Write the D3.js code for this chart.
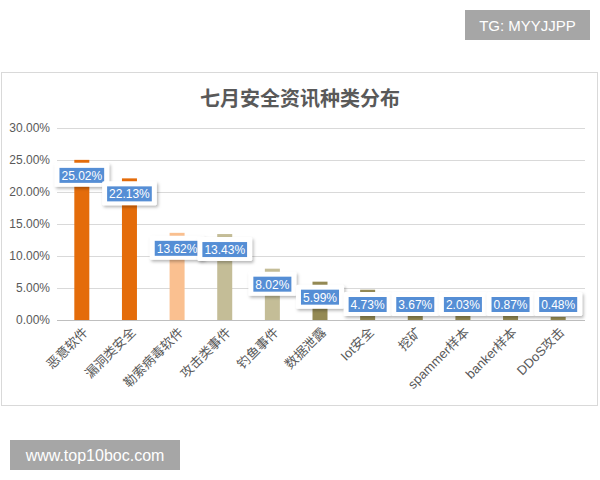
<!DOCTYPE html>
<html><head><meta charset="utf-8">
<script src="https://cdn.jsdelivr.net/npm/d3@7"></script>
<style>body{margin:0;background:#fff}svg{display:block}</style>
</head><body>
<script>
const categories = ["恶意软件","漏洞类安全","勒索病毒软件","攻击类事件","钓鱼事件","数据泄露","Iot安全","挖矿","spammer样本","banker样本","DDoS攻击"];
const values = [25.02, 22.13, 13.62, 13.43, 8.02, 5.99, 4.73, 3.67, 2.03, 0.87, 0.48];
const barColors = ["#E46C0A","#E46C0A","#FAC090","#C4BD97","#C4BD97","#948A54","#948A54","#948A54","#948A54","#948A54","#948A54"];
const yTicks = [0, 5, 10, 15, 20, 25, 30];
const title = "七月安全资讯种类分布";

const W = 600, H = 480;
const svg = d3.select("body").append("svg").attr("width", W).attr("height", H);
const defs = svg.append("defs");
const f = defs.append("filter").attr("id","sh").attr("x","-30%").attr("y","-30%").attr("width","160%").attr("height","180%");
f.append("feDropShadow").attr("dx",1.5).attr("dy",2).attr("stdDeviation",1.5).attr("flood-color","#000").attr("flood-opacity",0.28);

// watermark boxes
svg.append("rect").attr("x",465).attr("y",10).attr("width",125).attr("height",30).attr("fill","#A6A6A6");
svg.append("text").attr("x",527.5).attr("y",31).attr("text-anchor","middle").attr("fill","#fff")
  .attr("font-family","Liberation Sans, Arial, sans-serif").attr("font-size",15).text("TG: MYYJJPP");
svg.append("rect").attr("x",10).attr("y",440).attr("width",170).attr("height",30).attr("fill","#A6A6A6");
svg.append("text").attr("x",95).attr("y",461).attr("text-anchor","middle").attr("fill","#fff")
  .attr("font-family","Liberation Sans, Arial, sans-serif").attr("font-size",16).text("www.top10boc.com");

// chart frame
svg.append("rect").attr("x",1.5).attr("y",72.5).attr("width",596).attr("height",333)
  .attr("fill","#fff").attr("stroke","#D9D9D9");

svg.append("text").attr("x",300).attr("y",106).attr("text-anchor","middle")
  .attr("font-family","Noto Sans CJK SC, sans-serif").attr("font-weight","bold").attr("font-size",20)
  .attr("fill","#595959").text(title);

const x = d3.scaleBand().domain(categories).range([58, 582]).padding(0);
const y = d3.scaleLinear().domain([0, 30]).range([320, 128]);

// grid
const gy = svg.append("g").attr("transform","translate(57,0)")
  .call(d3.axisLeft(y).tickValues(yTicks).tickSize(-528).tickFormat(d => d.toFixed(2) + "%"));
gy.select(".domain").remove();
gy.selectAll(".tick line").attr("stroke","#D9D9D9");
gy.selectAll(".tick text").attr("x",-7).attr("fill","#595959")
  .attr("font-family","Liberation Sans, Arial, sans-serif").attr("font-size",12);
gy.selectAll(".tick").filter(d => d === 0).select("line").attr("stroke","#BFBFBF");

const bw = 15;
const data = categories.map((c, i) => ({c, v: values[i], col: barColors[i]}));

svg.append("g").selectAll("rect").data(data).join("rect")
  .attr("x", d => x(d.c) + x.bandwidth()/2 - bw/2)
  .attr("y", d => y(d.v))
  .attr("width", bw)
  .attr("height", d => y(0) - y(d.v))
  .attr("fill", d => d.col);

// x labels
const xa = svg.append("g").attr("transform","translate(0,320)")
  .call(d3.axisBottom(x).tickSize(0).tickPadding(0));
xa.select(".domain").remove();
xa.selectAll(".tick text")
  .attr("font-family","Liberation Sans, Noto Sans CJK SC, sans-serif").attr("font-size",13).attr("fill","#595959")
  .attr("text-anchor","end").attr("dy",0)
  .attr("transform","translate(7,13) rotate(-45)");

// data labels
const lg = svg.append("g");
data.forEach(d => {
  const cx = x(d.c) + x.bandwidth()/2;
  const top = Math.min(y(d.v) + 3, 292);
  const g = lg.append("g");
  const wr = g.append("rect").attr("fill","#fff").attr("rx",1.5).attr("filter","url(#sh)");
  const br = g.append("rect").attr("fill","#558ED5");
  const t = g.append("text").attr("x",cx).attr("y",top+17).attr("text-anchor","middle")
    .attr("fill","#fff").attr("font-family","Liberation Sans, Arial, sans-serif").attr("font-size",12)
    .text(d.v.toFixed(2) + "%");
  const tw = t.node().getComputedTextLength();
  const bW = tw + 4;
  br.attr("x", cx - bW/2).attr("y", top + 5).attr("width", bW).attr("height", 15);
  wr.attr("x", cx - bW/2 - 5).attr("y", top).attr("width", bW + 10).attr("height", 24);
});
</script>
</body></html>
